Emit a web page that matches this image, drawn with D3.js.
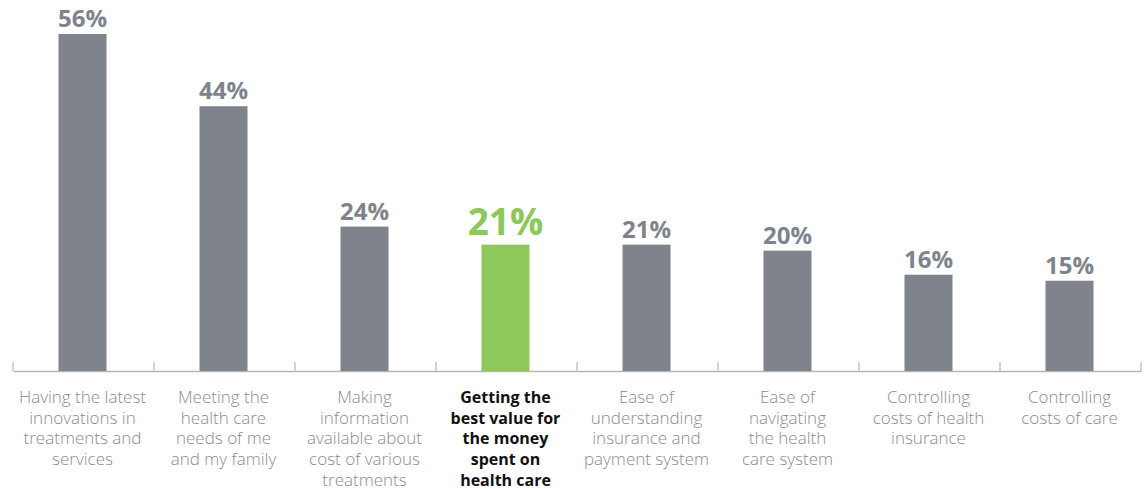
<!DOCTYPE html>
<html><head><meta charset="utf-8">
<script src="https://cdn.jsdelivr.net/npm/d3@7"></script>
<style>
body{margin:0;background:#fff;}
svg{display:block;}
</style></head>
<body>
<svg id="chart" width="1148" height="489"></svg>
<script>
const categories = [
  ["Having the latest","innovations in","treatments and","services"],
  ["Meeting the","health care","needs of me","and my family"],
  ["Making","information","available about","cost of various","treatments"],
  ["Getting the","best value for","the money","spent on","health care"],
  ["Ease of","understanding","insurance and","payment system"],
  ["Ease of","navigating","the health","care system"],
  ["Controlling","costs of health","insurance"],
  ["Controlling","costs of care"]
];
const values = [56, 44, 24, 21, 21, 20, 16, 15];
const valueLabels = ["56%","44%","24%","21%","21%","20%","16%","15%"];
const highlight = [false,false,false,true,false,false,false,false];

const svg = d3.select("#chart");
const baseY = 371;
const x = d3.scaleBand().domain(d3.range(categories.length)).range([13, 1141]).paddingInner(0).paddingOuter(0);
const y = d3.scaleLinear().domain([0, 56]).range([baseY, 34]);
const barW = 48;
const gray = "#7f838c", green = "#8cc85a";

const axis = d3.axisBottom(x).tickSize(0).tickFormat("");
const gAxis = svg.append("g").attr("transform", `translate(0,${baseY})`).call(axis);
gAxis.select(".domain").attr("stroke", "#b4b6bb").attr("stroke-width", 1.5);
const bounds = d3.range(categories.length + 1).map(i => i < categories.length ? x(i) : x(categories.length-1) + x.bandwidth());
svg.append("g").selectAll("line").data(bounds).join("line")
  .attr("x1", d => d).attr("x2", d => d).attr("y1", baseY - 9).attr("y2", baseY)
  .attr("stroke", "#b4b6bb").attr("stroke-width", 1.2);

svg.append("g").selectAll("rect").data(values).join("rect")
  .attr("x", (d,i) => x(i) + x.bandwidth()/2 - barW/2 - 1)
  .attr("width", barW)
  .attr("y", d => y(d))
  .attr("height", d => baseY - y(d))
  .attr("fill", (d,i) => highlight[i] ? green : gray);

svg.append("g").selectAll("text").data(values).join("text")
  .attr("x", (d,i) => x(i) + x.bandwidth()/2 - 1)
  .attr("y", (d,i) => y(d) - (highlight[i] ? 10 : 7))
  .attr("text-anchor", "middle")
  .attr("font-family", "'Open Sans', 'Noto Sans', sans-serif")
  .attr("font-weight", 700)
  .attr("font-size", (d,i) => highlight[i] ? 37 : 24)
  .attr("fill", (d,i) => highlight[i] ? green : gray)
  .text((d,i) => valueLabels[i]);

const lab = svg.append("g").selectAll("text").data(categories).join("text")
  .attr("x", (d,i) => x(i) + x.bandwidth()/2 - 1)
  .attr("y", 403)
  .attr("text-anchor", "middle")
  .attr("font-family", "'Open Sans', 'Noto Sans', sans-serif")
  .attr("font-weight", (d,i) => highlight[i] ? 700 : 300)
  .attr("font-size", (d,i) => highlight[i] ? 16 : 17)
  .attr("fill", (d,i) => highlight[i] ? "#111" : "#8a8c90");
lab.each(function(d){
  d3.select(this).selectAll("tspan").data(d).join("tspan")
    .attr("x", d3.select(this).attr("x"))
    .attr("dy", (t,j) => j === 0 ? 0 : 20.7)
    .text(t => t);
});
</script>
</body></html>
